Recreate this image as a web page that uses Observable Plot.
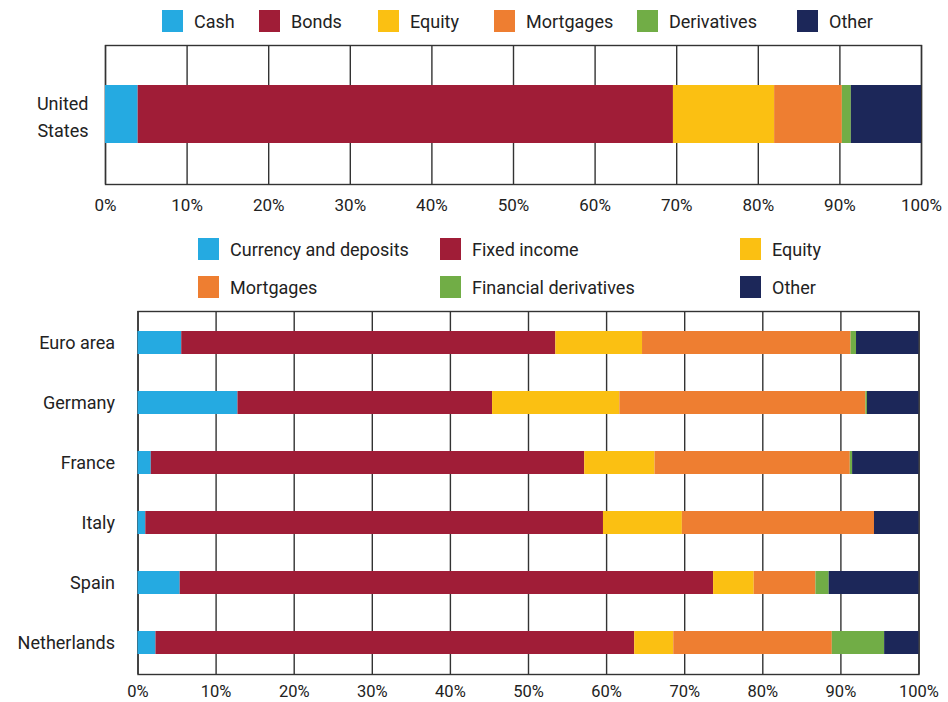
<!DOCTYPE html>
<html>
<head>
<meta charset="utf-8">
<script src="https://cdn.jsdelivr.net/npm/d3@7"></script>
<script src="https://cdn.jsdelivr.net/npm/@observablehq/plot@0.6"></script>
<style>
  html, body { margin: 0; padding: 0; background: #fff; }
  #wrap { position: relative; width: 948px; height: 702px; font-family: Roboto, "Noto Sans", sans-serif; color: #222; }
  #wrap svg { position: absolute; left: 0; background: transparent; overflow: visible; }
  .legend { position: absolute; font-size: 18px; z-index: 2; }
  .item { position: absolute; display: flex; align-items: center; white-space: nowrap; }
  .sw { width: 21px; height: 22px; margin-right: 11px; flex: none; }
</style>
</head>
<body>
<div id="wrap"></div>
<script>
// ---- Data ----
const categoriesTop = ["Cash", "Bonds", "Equity", "Mortgages", "Derivatives", "Other"];
const categoriesBottom = ["Currency and deposits", "Fixed income", "Equity", "Mortgages", "Financial derivatives", "Other"];
const colors = ["#25aae1", "#a01d37", "#fbc012", "#ee7e31", "#71ad46", "#1c2759"];

const topCountry = "United States";
const usValues = [4.0, 65.6, 12.4, 8.3, 1.1, 8.6];

const countries = ["Euro area", "Germany", "France", "Italy", "Spain", "Netherlands"];
const currencyDeposits   = [5.6, 12.8, 1.7, 1.0, 5.4, 2.3];
const fixedIncome        = [47.9, 32.6, 55.5, 58.6, 68.3, 61.3];
const equity             = [11.1, 16.3, 9.0, 10.1, 5.2, 5.0];
const mortgages          = [26.7, 31.5, 25.0, 24.6, 7.9, 20.3];
const financialDerivs    = [0.7, 0.2, 0.3, 0.0, 1.7, 6.7];
const other              = [8.0, 6.6, 8.5, 5.7, 11.5, 4.4];

const xTicks = [0, 10, 20, 30, 40, 50, 60, 70, 80, 90, 100];
const fmtPct = d => d + "%";

// ---- Tables built from arrays ----
const usData = categoriesTop.map((c, i) => ({country: topCountry, category: c, value: usValues[i]}));
const bottomSeries = [currencyDeposits, fixedIncome, equity, mortgages, financialDerivs, other];
const euData = [];
countries.forEach((country, j) => {
  categoriesBottom.forEach((c, i) => {
    euData.push({country, category: c, value: bottomSeries[i][j]});
  });
});

const wrap = document.getElementById("wrap");
const gridStroke = "#333";

// ---- Top chart ----
const topPlot = Plot.plot({
  width: 948, height: 230,
  marginTop: 45, marginBottom: 46, marginLeft: 105, marginRight: 27,
  x: {domain: [0, 100], label: null},
  y: {domain: [topCountry], paddingInner: 0.58, paddingOuter: 0.29, label: null},
  color: {domain: categoriesTop, range: colors},
  style: {fontFamily: "Roboto, sans-serif", fontSize: "17px", color: "#222", background: "transparent"},
  marks: [
    Plot.gridX(xTicks, {stroke: gridStroke, strokeOpacity: 1, strokeWidth: 1.4}),
    Plot.frame({stroke: gridStroke, strokeWidth: 1.4}),
    Plot.barX(usData, Plot.stackX({x: "value", y: "country", fill: "category", order: null})),
    Plot.axisX(xTicks, {tickSize: 0, tickPadding: 14, tickFormat: fmtPct, fontSize: 17, label: null}),
    Plot.axisY({tickSize: 0, tickPadding: 17, fontSize: 18, lineHeight: 1.5, label: null,
      tickFormat: () => "United\nStates"})
  ]
});
topPlot.style.top = "0px";
wrap.appendChild(topPlot);

// ---- Bottom chart ----
const botPlot = Plot.plot({
  width: 948, height: 412,
  marginTop: 21, marginBottom: 28, marginLeft: 137.5, marginRight: 29.5,
  x: {domain: [0, 100], label: null},
  y: {domain: countries, paddingInner: 0.61, paddingOuter: 0.305, label: null},
  color: {domain: categoriesBottom, range: colors},
  style: {fontFamily: "Roboto, sans-serif", fontSize: "17px", color: "#222", background: "transparent"},
  marks: [
    Plot.gridX(xTicks, {stroke: gridStroke, strokeOpacity: 1, strokeWidth: 1.4}),
    Plot.frame({stroke: gridStroke, strokeWidth: 1.4}),
    Plot.barX(euData, Plot.stackX({x: "value", y: "country", fill: "category", order: null})),
    Plot.axisX(xTicks, {tickSize: 0, tickPadding: 11, tickFormat: fmtPct, fontSize: 16.5, label: null}),
    Plot.axisY({tickSize: 0, tickPadding: 23, fontSize: 18, label: null})
  ]
});
botPlot.style.top = "290px";
wrap.appendChild(botPlot);

// ---- Legends ----
function addItem(label, color, left, top) {
  const it = document.createElement("div");
  it.className = "item legend";
  it.style.left = left + "px";
  it.style.top = top + "px";
  const sw = document.createElement("div");
  sw.className = "sw";
  sw.style.background = color;
  const tx = document.createElement("span");
  tx.textContent = label;
  it.appendChild(sw);
  it.appendChild(tx);
  wrap.appendChild(it);
}
const topLegendX = [162, 259, 378, 494, 637, 797];
categoriesTop.forEach((c, i) => addItem(c, colors[i], topLegendX[i], 10));

const botLegendX = [198, 440, 740];
const botLegendY = [238, 276];
categoriesBottom.forEach((c, i) => addItem(c, colors[i], botLegendX[i % 3], botLegendY[Math.floor(i / 3)]));
</script>
</body>
</html>
